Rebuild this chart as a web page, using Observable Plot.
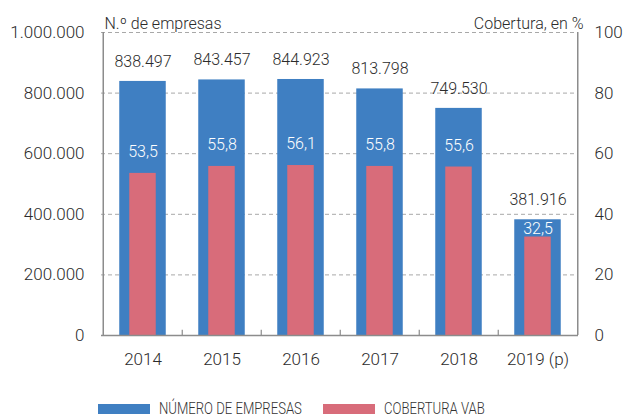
<!DOCTYPE html>
<html><head><meta charset="utf-8">
<script src="https://cdn.jsdelivr.net/npm/d3@7"></script>
<script src="https://cdn.jsdelivr.net/npm/@observablehq/plot@0.6"></script>
<style>
body{margin:0;background:#fff;font-family:Roboto,"Liberation Sans",Arial,sans-serif;font-weight:300;}
#legend{position:relative;width:625px;height:43px;}
.sw{position:absolute;top:29px;width:52px;height:10px;}
.lt{position:absolute;top:25px;font-size:16px;color:#333;transform:scaleX(0.82);transform-origin:left center;white-space:nowrap;line-height:18px;}
</style>
</head><body><div id="chart"></div><div id="legend"></div>
<script>
const years = ["2014", "2015", "2016", "2017", "2018", "2019 (p)"];
const companies = [838497, 843457, 844923, 813798, 749530, 381916];
const coverage = [53.5, 55.8, 56.1, 55.8, 55.6, 32.5];
const leftTicks = [0, 200000, 400000, 600000, 800000, 1000000];
const rightTicks = [0, 20, 40, 60, 80, 100];
const legendLabels = ["NÚMERO DE EMPRESAS", "COBERTURA VAB"];
const leftTitle = "N.º de empresas";
const rightTitle = "Cobertura, en %";

const BLUE = "#3f7fc2", RED = "#d86c7a", AXIS = "#8c8c8c", GRID = "#a8a8a8", TXT = "#2b2b2b";
const W = 625, H = 375, mL = 101, mR = 47, mT = 32, mB = 40;
const step = (W - mL - mR) / years.length;
const K = 1e6 / 100; // right-axis factor

const loc = d3.formatLocale({decimal: ",", thousands: ".", grouping: [3], currency: ["", "€"]});
const fInt = loc.format(",d");
const fDec = loc.format(",.1f");

const rows = years.map((y, i) => ({year: y, n: companies[i], c: coverage[i]}));
const FONT = 'Roboto, "Liberation Sans", Arial, sans-serif';

const chart = Plot.plot({
  width: W, height: H,
  marginLeft: mL, marginRight: mR, marginTop: mT, marginBottom: mB,
  style: {fontFamily: FONT, fontWeight: 300, color: TXT, background: "#fff"},
  x: {domain: years, padding: 0},
  y: {domain: [0, 1e6]},
  marks: [
    Plot.gridY(leftTicks, {stroke: GRID, strokeOpacity: 1, strokeDasharray: "4,3"}),
    Plot.barY(rows, {x: "year", y: "n", fill: BLUE, insetLeft: (step - 47) / 2, insetRight: (step - 47) / 2}),
    Plot.barY(rows, {x: "year", y: d => d.c * K, fill: RED, insetLeft: (step - 27) / 2, insetRight: (step - 27) / 2}),
    Plot.ruleY([0], {stroke: AXIS, strokeWidth: 1.5}),
    Plot.ruleX([years[0]], {dx: -step / 2, y1: 0, y2: 1e6, stroke: AXIS, strokeWidth: 1.5}),
    Plot.ruleX([years[years.length - 1]], {dx: step / 2, y1: 0, y2: 1e6, stroke: AXIS, strokeWidth: 1.5}),
    Plot.ruleX(years.slice(1), {dx: -step / 2, y1: 0, y2: 17000, stroke: AXIS, strokeWidth: 1.2}),
    Plot.axisY(leftTicks, {anchor: "left", tickSize: 0, tickPadding: 17, tickFormat: fInt, fontSize: 17, label: null, fill: TXT}),
    Plot.axisY(rightTicks.map(v => v * K), {anchor: "right", tickSize: 0, tickPadding: 16, tickFormat: d => String(d / K), fontSize: 17, label: null, fill: TXT}),
    Plot.axisX({tickSize: 0, tickPadding: 17, fontSize: 17, label: null, fill: TXT}),
    Plot.text(rows, {x: "year", y: "n", text: d => fInt(d.n), dy: -20, fontSize: 16, fill: TXT}),
    Plot.text(rows, {x: "year", y: d => Math.min(d.c * K + 70000, d.n - 30000), text: d => fDec(d.c), fontSize: 16, fill: "#fff"}),
    Plot.text([leftTitle], {frameAnchor: "top-left", text: d => d, dx: 3, dy: -15, fontSize: 16, textAnchor: "start", fill: TXT}),
    Plot.text([rightTitle], {frameAnchor: "top-right", text: d => d, dx: 5, dy: -15, fontSize: 16, textAnchor: "end", fill: TXT})
  ]
});
document.getElementById("chart").appendChild(chart);

const legend = document.getElementById("legend");
const items = [{label: legendLabels[0], color: BLUE, x: 98}, {label: legendLabels[1], color: RED, x: 323}];
for (const it of items) {
  const s = document.createElement("div");
  s.className = "sw"; s.style.left = it.x + "px"; s.style.background = it.color;
  legend.appendChild(s);
  const t = document.createElement("div");
  t.className = "lt"; t.style.left = (it.x + 61) + "px"; t.textContent = it.label;
  legend.appendChild(t);
}
</script>
</body></html>
